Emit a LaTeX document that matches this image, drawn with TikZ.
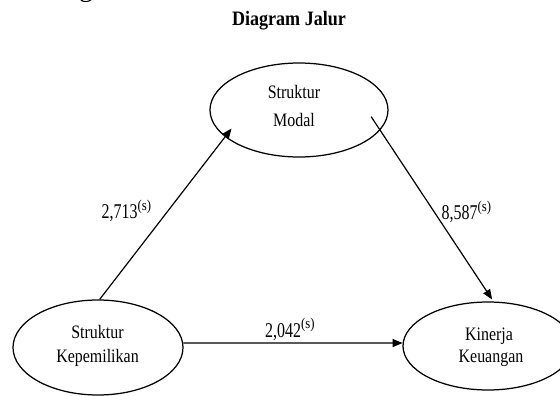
\documentclass[tikz,border=0pt]{standalone}
\usepackage{fontspec}
\setmainfont{Liberation Serif}
\newfontfamily\ellfont{Liberation Serif}[FakeStretch=0.84]
\newfontfamily\numfont{Liberation Serif}[FakeStretch=0.76]
\newfontfamily\supfont{Liberation Serif}[FakeStretch=0.85]
\newfontfamily\titlefont{Liberation Serif}[FakeStretch=0.88]
\newcommand{\sigmark}{\raisebox{8.5pt}{\supfont\fontsize{15}{16}\selectfont (s)}}
\usetikzlibrary{shapes.geometric,arrows.meta}
\begin{document}
\begin{tikzpicture}[x=1pt,y=-1pt,
  ell/.style={draw,ellipse,line width=1.25pt,inner sep=0pt},
  lbl/.style={anchor=base,inner sep=0pt,font=\ellfont\fontsize{19}{22}\selectfont},
  coef/.style={anchor=base west,inner sep=0pt,font=\numfont\fontsize{21}{24}\selectfont},
  arr/.style={line width=1.2pt,-{Triangle[length=10pt,width=8pt]}}]
\useasboundingbox (0,0) rectangle (560,396);
\clip (0,0) rectangle (560,396);
\node[anchor=base west,inner sep=0pt,font=\fontsize{28}{30}\selectfont] (frag) at (79,-3) {g};
\node[anchor=base,inner sep=0pt,font=\titlefont\bfseries\fontsize{20.5}{24}\selectfont] (title) at (289,26) {Diagram Jalur};
\node[ell,minimum width=178pt,minimum height=94pt] (modal) at (299,110) {};
\node[lbl] (modalA) at (294,99) {Struktur};
\node[lbl] (modalB) at (294,127) {Modal};
\node[ell,minimum width=170pt,minimum height=95pt] (kep) at (98,347.5) {};
\node[lbl] (kepA) at (97.5,338) {Struktur};
\node[lbl] (kepB) at (97.5,362) {Kepemilikan};
\node[ell,minimum width=170pt,minimum height=88pt] (kin) at (488,346) {};
\node[lbl] (kinA) at (489,340) {Kinerja};
\node[lbl] (kinB) at (491,362) {Keuangan};
\node[coef] (c1) at (101.5,218.5) {2,713\sigmark};
\node[coef] (c2) at (441.5,219.5) {8,587\sigmark};
\node[coef] (c3) at (265,337) {2,042\sigmark};
\draw[arr,shorten >=-10.6pt] (kep.88) -- (modal.200);
\draw[arr,shorten <=-16.3pt,shorten >=2.4pt] (modal.-14.4) -- (kin.83);
\draw[arr] (kep.3) -- (kin.178);
\end{tikzpicture}
\end{document}
